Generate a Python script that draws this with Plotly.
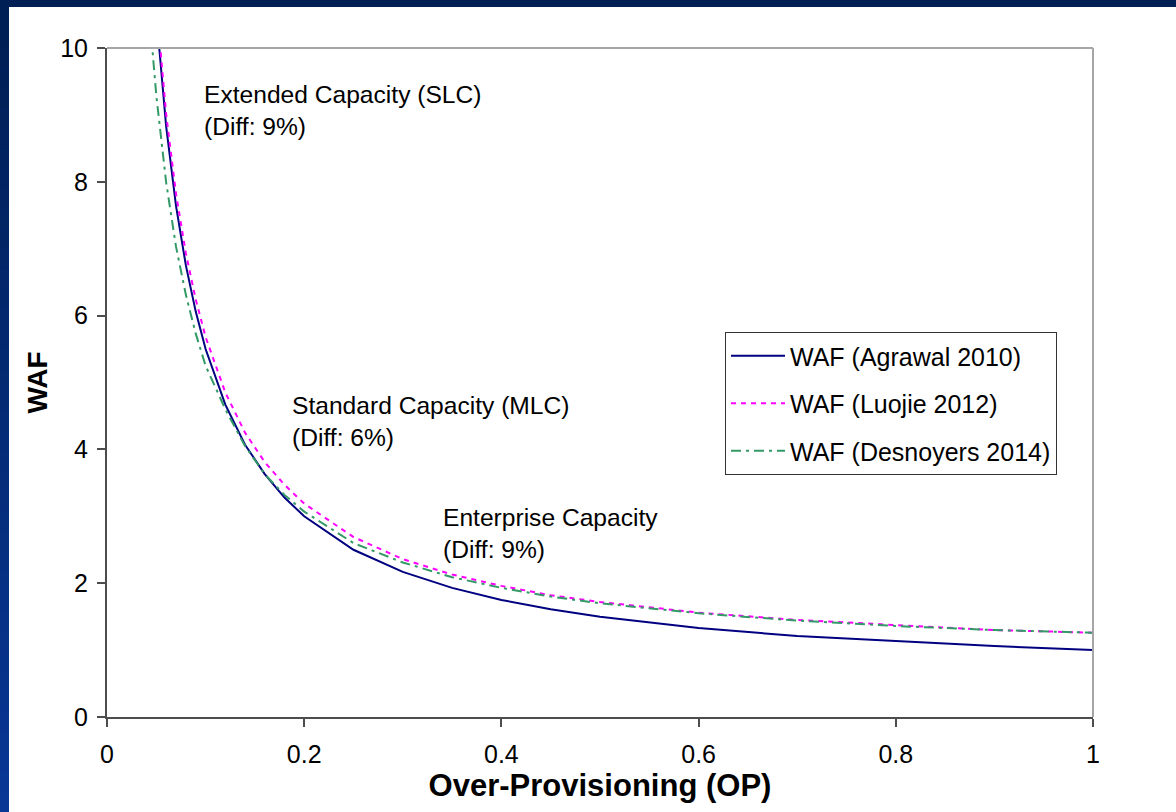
import plotly.graph_objects as go

# Over-provisioning ratio (x) and write amplification factor for each model
op = [0.05, 0.06, 0.07, 0.08, 0.09, 0.10, 0.12, 0.14, 0.16, 0.18, 0.20,
      0.25, 0.30, 0.35, 0.40, 0.45, 0.50, 0.60, 0.70, 0.80, 0.90, 1.00]
waf_agrawal = [10.5, 8.83, 7.64, 6.75, 6.06, 5.50, 4.67, 4.07, 3.63, 3.28, 3.00,
               2.50, 2.17, 1.93, 1.75, 1.61, 1.50, 1.33, 1.21, 1.13, 1.06, 1.00]
waf_luojie = [10.68, 9.01, 7.82, 6.93, 6.24, 5.68, 4.85, 4.25, 3.81, 3.47, 3.19,
              2.69, 2.36, 2.13, 1.96, 1.82, 1.72, 1.56, 1.45, 1.37, 1.30, 1.26]
op_desnoyers = [0.045, 0.05, 0.06, 0.07, 0.08, 0.09, 0.10, 0.12, 0.14, 0.16, 0.18, 0.20,
                0.25, 0.30, 0.35, 0.40, 0.45, 0.50, 0.60, 0.70, 0.80, 0.90, 1.00]
waf_desnoyers = [10.16, 9.29, 7.99, 7.03, 6.31, 5.73, 5.25, 4.60, 4.05, 3.63, 3.32, 3.07,
                 2.60, 2.31, 2.09, 1.93, 1.80, 1.70, 1.55, 1.44, 1.36, 1.30, 1.26]

x_ticks = [0, 0.2, 0.4, 0.6, 0.8, 1]
x_tick_text = ["0", "0.2", "0.4", "0.6", "0.8", "1"]
y_ticks = [0, 2, 4, 6, 8, 10]

notes = [
    (0.0963, 9.07, "Extended Capacity (SLC)<br>(Diff: 9%)"),
    (0.1860, 4.42, "Standard Capacity (MLC)<br>(Diff: 6%)"),
    (0.3390, 2.74, "Enterprise Capacity<br>(Diff: 9%)"),
]

W, H = 1176, 812
L, R, T, B = 107, 83, 48, 95
PW, PH = W - L - R, H - T - B
FONT = "Liberation Sans, Arial, sans-serif"


def px_x(p):
    return (p - L) / PW


def px_y(p):
    return (H - B - p) / PH


fig = go.Figure()
fig.add_trace(go.Scatter(x=op, y=waf_agrawal, mode="lines", name="WAF (Agrawal 2010)",
                         legendgroup="a", line=dict(color="#000080", width=2)))
fig.add_trace(go.Scatter(x=op, y=waf_luojie, mode="lines", name="WAF (Luojie 2012)",
                         legendgroup="b", line=dict(color="#FF00FF", width=2, dash="5px,5px")))
fig.add_trace(go.Scatter(x=op_desnoyers, y=waf_desnoyers, mode="lines",
                         name="WAF (Desnoyers 2014)", legendgroup="c",
                         line=dict(color="#339966", width=2, dash="10px,5px,3px,5px")))

shapes = []
# dark blue frame: top band and a vertical gradient band on the left
shapes.append(dict(type="rect", xref="paper", yref="paper",
                   x0=px_x(0), x1=px_x(W), y0=px_y(7), y1=px_y(0),
                   fillcolor="rgb(0,31,84)", line_width=0, layer="above"))
n = 40
for i in range(n):
    t = i / (n - 1)
    r_, g_, b_ = int(0 + 9 * t), int(31 + 24 * t), int(84 + 66 * t)
    y_top = 7 + (H - 7) * i / n
    y_bot = 7 + (H - 7) * (i + 1) / n + 1
    shapes.append(dict(type="rect", xref="paper", yref="paper",
                       x0=px_x(0), x1=px_x(9), y0=px_y(min(y_bot, H)), y1=px_y(y_top),
                       fillcolor=f"rgb({r_},{g_},{b_})", line_width=0, layer="above"))
# light grey top and right borders of the plot area
shapes.append(dict(type="line", xref="paper", yref="paper", x0=0, x1=1, y0=1, y1=1,
                   line=dict(color="#A6A6A6", width=2)))
shapes.append(dict(type="line", xref="paper", yref="paper", x0=1, x1=1, y0=0, y1=1,
                   line=dict(color="#A6A6A6", width=2)))

annotations = [dict(x=x, y=y, xref="x", yref="y", text=t, showarrow=False,
                    xanchor="left", yanchor="middle", align="left",
                    font=dict(family=FONT, size=24.6, color="black")) for x, y, t in notes]

fig.update_layout(
    width=W, height=H,
    margin=dict(l=L, r=R, t=T, b=B, pad=0),
    paper_bgcolor="white", plot_bgcolor="white",
    font=dict(family=FONT, size=25, color="black"),
    shapes=shapes, annotations=annotations,
    showlegend=True,
    legend=dict(x=px_x(725), y=px_y(332), xanchor="left", yanchor="top",
                bgcolor="white", bordercolor="#333333", borderwidth=1,
                font=dict(family=FONT, size=25, color="black"),
                tracegroupgap=12, itemwidth=54),
    xaxis=dict(range=[0, 1], tickvals=x_ticks, ticktext=x_tick_text,
               showgrid=False, zeroline=False, showline=True, linecolor="#4D4D4D", linewidth=2,
               ticks="outside", ticklen=8, tickwidth=2, tickcolor="#4D4D4D",
               ticklabelstandoff=6, tickfont=dict(family=FONT, size=25, color="black"),
               title=dict(text="<b>Over-Provisioning (OP)</b>", standoff=6,
                          font=dict(family=FONT, size=31, color="black"))),
    yaxis=dict(range=[0, 10], tickvals=y_ticks,
               showgrid=False, zeroline=False, showline=True, linecolor="#4D4D4D", linewidth=2,
               ticks="outside", ticklen=8, tickwidth=2, tickcolor="#4D4D4D",
               ticklabelstandoff=4, tickfont=dict(family=FONT, size=25, color="black"),
               title=dict(text="<b>WAF</b>", standoff=4,
                          font=dict(family=FONT, size=28, color="black"))),
)

fig.write_html("out.html")
